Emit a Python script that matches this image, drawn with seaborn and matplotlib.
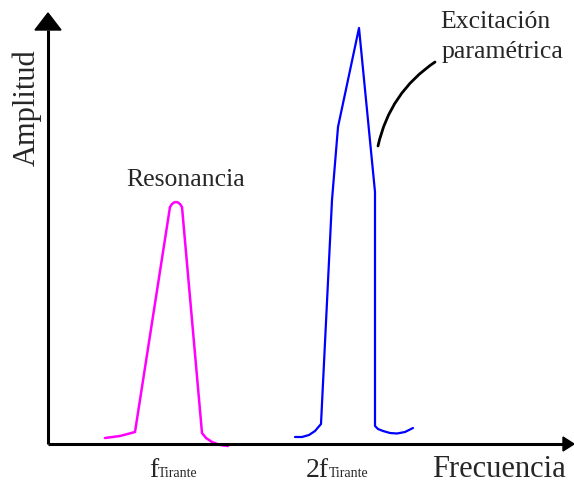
import matplotlib
matplotlib.use("Agg")
import matplotlib.pyplot as plt
import seaborn as sns
from matplotlib.patches import Polygon

sns.set_style("white")
plt.rcParams['font.family'] = ['Liberation Serif', 'DejaVu Serif']

# Resonance curve (frequency, amplitude)
res_freq = [57, 72, 87, 122, 124, 126, 128, 130, 132, 134, 154, 158, 164, 172, 180]
res_amp = [6, 8, 12, 237, 240, 241.5, 242, 241.5, 240, 237, 11, 6, 2, -1, -2]

# Parametric excitation curve
par_freq = [247, 254, 261, 267, 273, 284, 290, 311, 327, 327, 330, 335, 342, 349, 357, 365]
par_amp = [7, 7, 9, 13, 20, 244, 317, 416, 252, 18, 15, 13, 11, 10.5, 12, 16]

fig = plt.figure(figsize=(5.74, 4.83), dpi=100)
ax = fig.add_axes([0, 0, 1, 1])
XMIN, XMAX, YMIN, YMAX = -48, 526, -39, 444
ax.set_xlim(XMIN, XMAX)
ax.set_ylim(YMIN, YMAX)
ax.axis('off')

sns.lineplot(x=res_freq, y=res_amp, sort=False, estimator=None, color='#ff00ff',
             lw=1.8, ax=ax, solid_capstyle='round', solid_joinstyle='round')
sns.lineplot(x=par_freq, y=par_amp, sort=False, estimator=None, color='#0000ff',
             lw=1.6, ax=ax, solid_capstyle='round')

# axes with arrowheads
ax.plot([0, 0], [0, 414], color='black', lw=2.2, solid_capstyle='butt')
ax.plot([0, 515], [0, 0], color='black', lw=2.2, solid_capstyle='butt')
ax.add_patch(Polygon([[-13, 414], [13, 414], [0, 431]], closed=True, color='black'))
ax.add_patch(Polygon([[515, 7], [515, -7], [526, 0]], closed=True, color='black'))

# labels
ax.text(-21, 336, 'Amplitud', rotation=90, ha='center', va='center', fontsize=22)
ax.text(451, -33, 'Frecuencia', ha='center', va='baseline', fontsize=22)
ax.text(138, 258, 'Resonancia', ha='center', va='baseline', fontsize=18.5)
ax.text(392, 416, 'Excitación', ha='left', va='baseline', fontsize=18.5)
ax.text(394, 386, 'paramétrica', ha='left', va='baseline', fontsize=18.5)

ax.text(101, -33, 'f', ha='left', va='baseline', fontsize=20)
ax.text(110, -33, 'Tirante', ha='left', va='baseline', fontsize=10)
ax.text(258, -33, '2f', ha='left', va='baseline', fontsize=20)
ax.text(281, -33, 'Tirante', ha='left', va='baseline', fontsize=10)

# annotation curve
ax.annotate('', xy=(387, 382), xytext=(330, 298),
            arrowprops=dict(arrowstyle='-', color='black', lw=2,
                            connectionstyle='arc3,rad=-0.2',
                            shrinkA=0, shrinkB=0))

fig.savefig('out.png', dpi=100)
